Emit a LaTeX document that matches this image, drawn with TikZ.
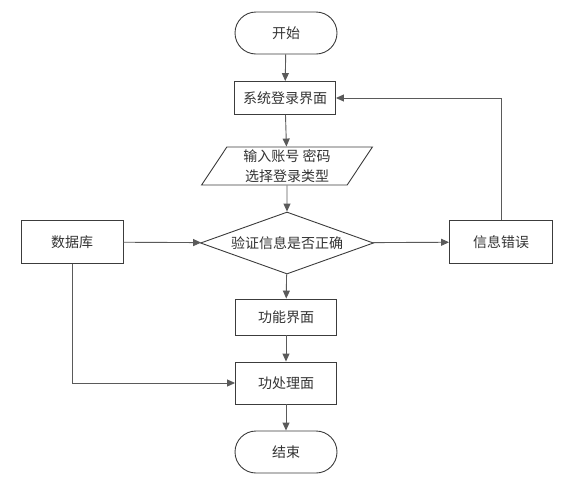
\documentclass[tikz,border=0pt]{standalone}
\usepackage{fontspec}
\newfontfamily\cjk{Noto Sans CJK SC}
\usetikzlibrary{arrows.meta,shapes.geometric,shapes.misc}
\definecolor{edge}{HTML}{3C3C3C}
\definecolor{wire}{HTML}{5A5A5A}
\definecolor{ink}{HTML}{333333}

\begin{document}
\begin{tikzpicture}[x=1pt, y=-1pt,
    >={Triangle[length=8pt,width=7pt]},
    base/.style={draw=edge, line width=0.9pt, text=ink, inner sep=0pt,
      font=\cjk\fontsize{14}{20}\selectfont},
    term/.style={base, rounded rectangle, minimum width=102pt, minimum height=42pt},
    proc/.style={base, rectangle, minimum width=101pt},
    io/.style={base, trapezium, trapezium stretches=true,
      trapezium left angle=61, trapezium right angle=119,
      minimum width=171pt, minimum height=38pt, align=center},
    cond/.style={base, diamond, aspect=2.8, minimum width=173pt, minimum height=62pt},
    wire/.style={draw=wire, line width=0.9pt}]
  \useasboundingbox (0,0) rectangle (576,483);

  % main column
  \node[term] (start) at (286,33) {开始};
  \node[proc, minimum height=33pt] (login) at (285,98) {系统登录界面};
  \node[io] (input) at (287,166) {输入账号 密码\\选择登录类型};
  \node[cond] (check) at (287,243) {验证信息是否正确};
  \node[proc, minimum height=36pt] (func) at (286,317) {功能界面};
  \node[proc, minimum height=42pt] (work) at (286,383) {功处理面};
  \node[term] (stop) at (286,452) {结束};

  % side boxes
  \node[proc, minimum width=102pt, minimum height=43pt] (db) at (72,242) {数据库};
  \node[proc, minimum width=103pt, minimum height=43pt] (err) at (501,242) {信息错误};

  \draw[wire,->] (start) -- (login);
  \draw[wire,->] (login) -- (input);
  \draw[wire,->] (input) -- (check);
  \draw[wire,->] (check) -- (func);
  \draw[wire,->] (func) -- (work);
  \draw[wire,->] (work) -- (stop);
  \draw[wire,->] (db) -- (check);
  \draw[wire,->] (check) -- (err);
  \draw[wire,->] (err.north) |- (login.east);
  \draw[wire,->] (db.south) |- (work.west);
\end{tikzpicture}
\end{document}
